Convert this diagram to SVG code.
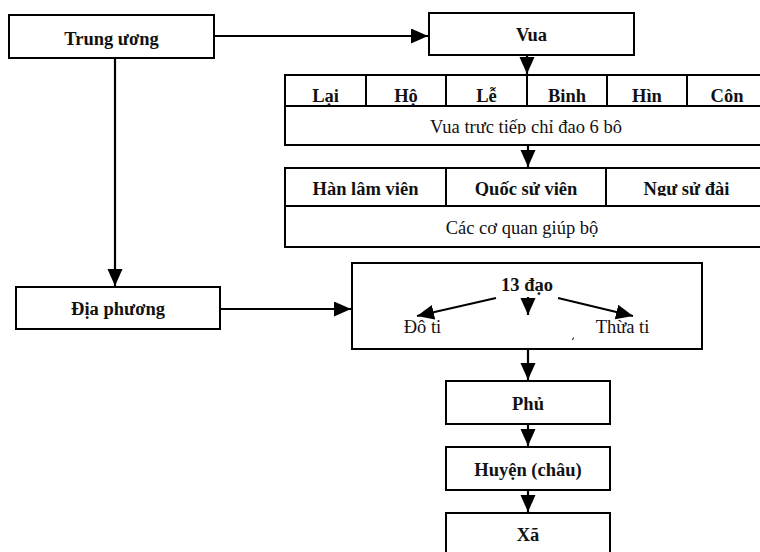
<svg xmlns="http://www.w3.org/2000/svg" width="760" height="552" viewBox="0 0 760 552">
<style>
.box{fill:#fff;stroke:#000;stroke-width:2}
.ln{fill:none;stroke:#000;stroke-width:2}
.con{fill:none;stroke:#000;stroke-width:2.2}
.b{font-family:"Liberation Serif","Times New Roman",serif;font-weight:bold;font-size:18.5px;fill:#111;text-anchor:middle}
.r{font-family:"Liberation Serif","Times New Roman",serif;font-size:18.5px;fill:#111;text-anchor:middle}
</style>
<defs>
<marker id="ah" markerUnits="userSpaceOnUse" markerWidth="18" markerHeight="16" refX="17" refY="7.5" orient="auto">
<path d="M0,0 L17,7.5 L0,15 z" fill="#000"/>
</marker>
<clipPath id="c1"><rect x="285" y="106" width="482" height="28"/></clipPath>
<clipPath id="c2"><rect x="285" y="168" width="482" height="28"/></clipPath>
</defs>
<rect width="760" height="552" fill="#fff"/>
<g id="trung-uong">
<rect class="box" x="9" y="15" width="205" height="43"/>
<text class="b" x="111.5" y="45">Trung ương</text>
</g>
<g id="vua">
<rect class="box" x="429" y="13" width="205" height="42"/>
<text class="b" x="531.5" y="41">Vua</text>
</g>
<g id="sau-bo">
<rect class="box" x="285" y="75" width="482" height="70"/>
<path class="ln" d="M285,106 H767 M366,75 V106 M446,75 V106 M527,75 V106 M607,75 V106 M687,75 V106"/>
<text class="b" x="325.5" y="102">Lại</text>
<text class="b" x="406" y="102">Hộ</text>
<text class="b" x="486.5" y="102">Lễ</text>
<text class="b" x="567" y="102">Binh</text>
<text class="b" x="647" y="102">Hìn</text>
<text class="b" x="727" y="102">Côn</text>
<text class="r" x="526" y="133" clip-path="url(#c1)">Vua trực tiếp chỉ đạo 6 bộ</text>
</g>
<g id="co-quan">
<rect class="box" x="285" y="168" width="482" height="79"/>
<path class="ln" d="M285,206 H767 M446,168 V206 M606,168 V206"/>
<text class="b" x="365.5" y="195" clip-path="url(#c2)">Hàn lâm viên</text>
<text class="b" x="526" y="195" clip-path="url(#c2)">Quốc sử viên</text>
<text class="b" x="686.5" y="195" clip-path="url(#c2)">Ngự sử đài</text>
<text class="r" x="522" y="234">Các cơ quan giúp bộ</text>
</g>
<g id="dia-phuong">
<rect class="box" x="16" y="287" width="204" height="42"/>
<text class="b" x="118" y="315">Địa phương</text>
</g>
<g id="muoi-ba-dao">
<rect class="box" x="352" y="263" width="350" height="86"/>
<text class="b" x="527" y="291">13 đạo</text>
<text class="r" x="422.5" y="333">Đô ti</text>
<text class="r" x="622.5" y="333">Thừa ti</text>
<path d="M573.5,337.5 L572.5,340" stroke="#000" stroke-width="1" fill="none"/>
</g>
<g id="phu">
<rect class="box" x="446" y="381" width="164" height="43"/>
<text class="b" x="528" y="410">Phủ</text>
</g>
<g id="huyen">
<rect class="box" x="446" y="447" width="164" height="43"/>
<text class="b" x="528" y="476">Huyện (châu)</text>
</g>
<g id="xa">
<rect class="box" x="446" y="513" width="164" height="45"/>
<text class="b" x="528" y="541">Xã</text>
</g>
<g id="connectors">
<line class="con" x1="214" y1="36" x2="428" y2="36" marker-end="url(#ah)"/>
<line class="con" x1="115" y1="58" x2="115" y2="286" marker-end="url(#ah)"/>
<line class="con" x1="527" y1="55" x2="527" y2="74" marker-end="url(#ah)"/>
<line class="con" x1="528" y1="145" x2="528" y2="167" marker-end="url(#ah)"/>
<line class="con" x1="220" y1="309" x2="351" y2="309" marker-end="url(#ah)"/>
<line class="con" x1="528" y1="297" x2="528" y2="315" marker-end="url(#ah)"/>
<line class="con" x1="496" y1="298" x2="417" y2="316" marker-end="url(#ah)"/>
<line class="con" x1="558" y1="298" x2="633" y2="316" marker-end="url(#ah)"/>
<line class="con" x1="528" y1="349" x2="528" y2="380" marker-end="url(#ah)"/>
<line class="con" x1="528" y1="424" x2="528" y2="446" marker-end="url(#ah)"/>
<line class="con" x1="528" y1="490" x2="528" y2="512" marker-end="url(#ah)"/>
</g>
</svg>
